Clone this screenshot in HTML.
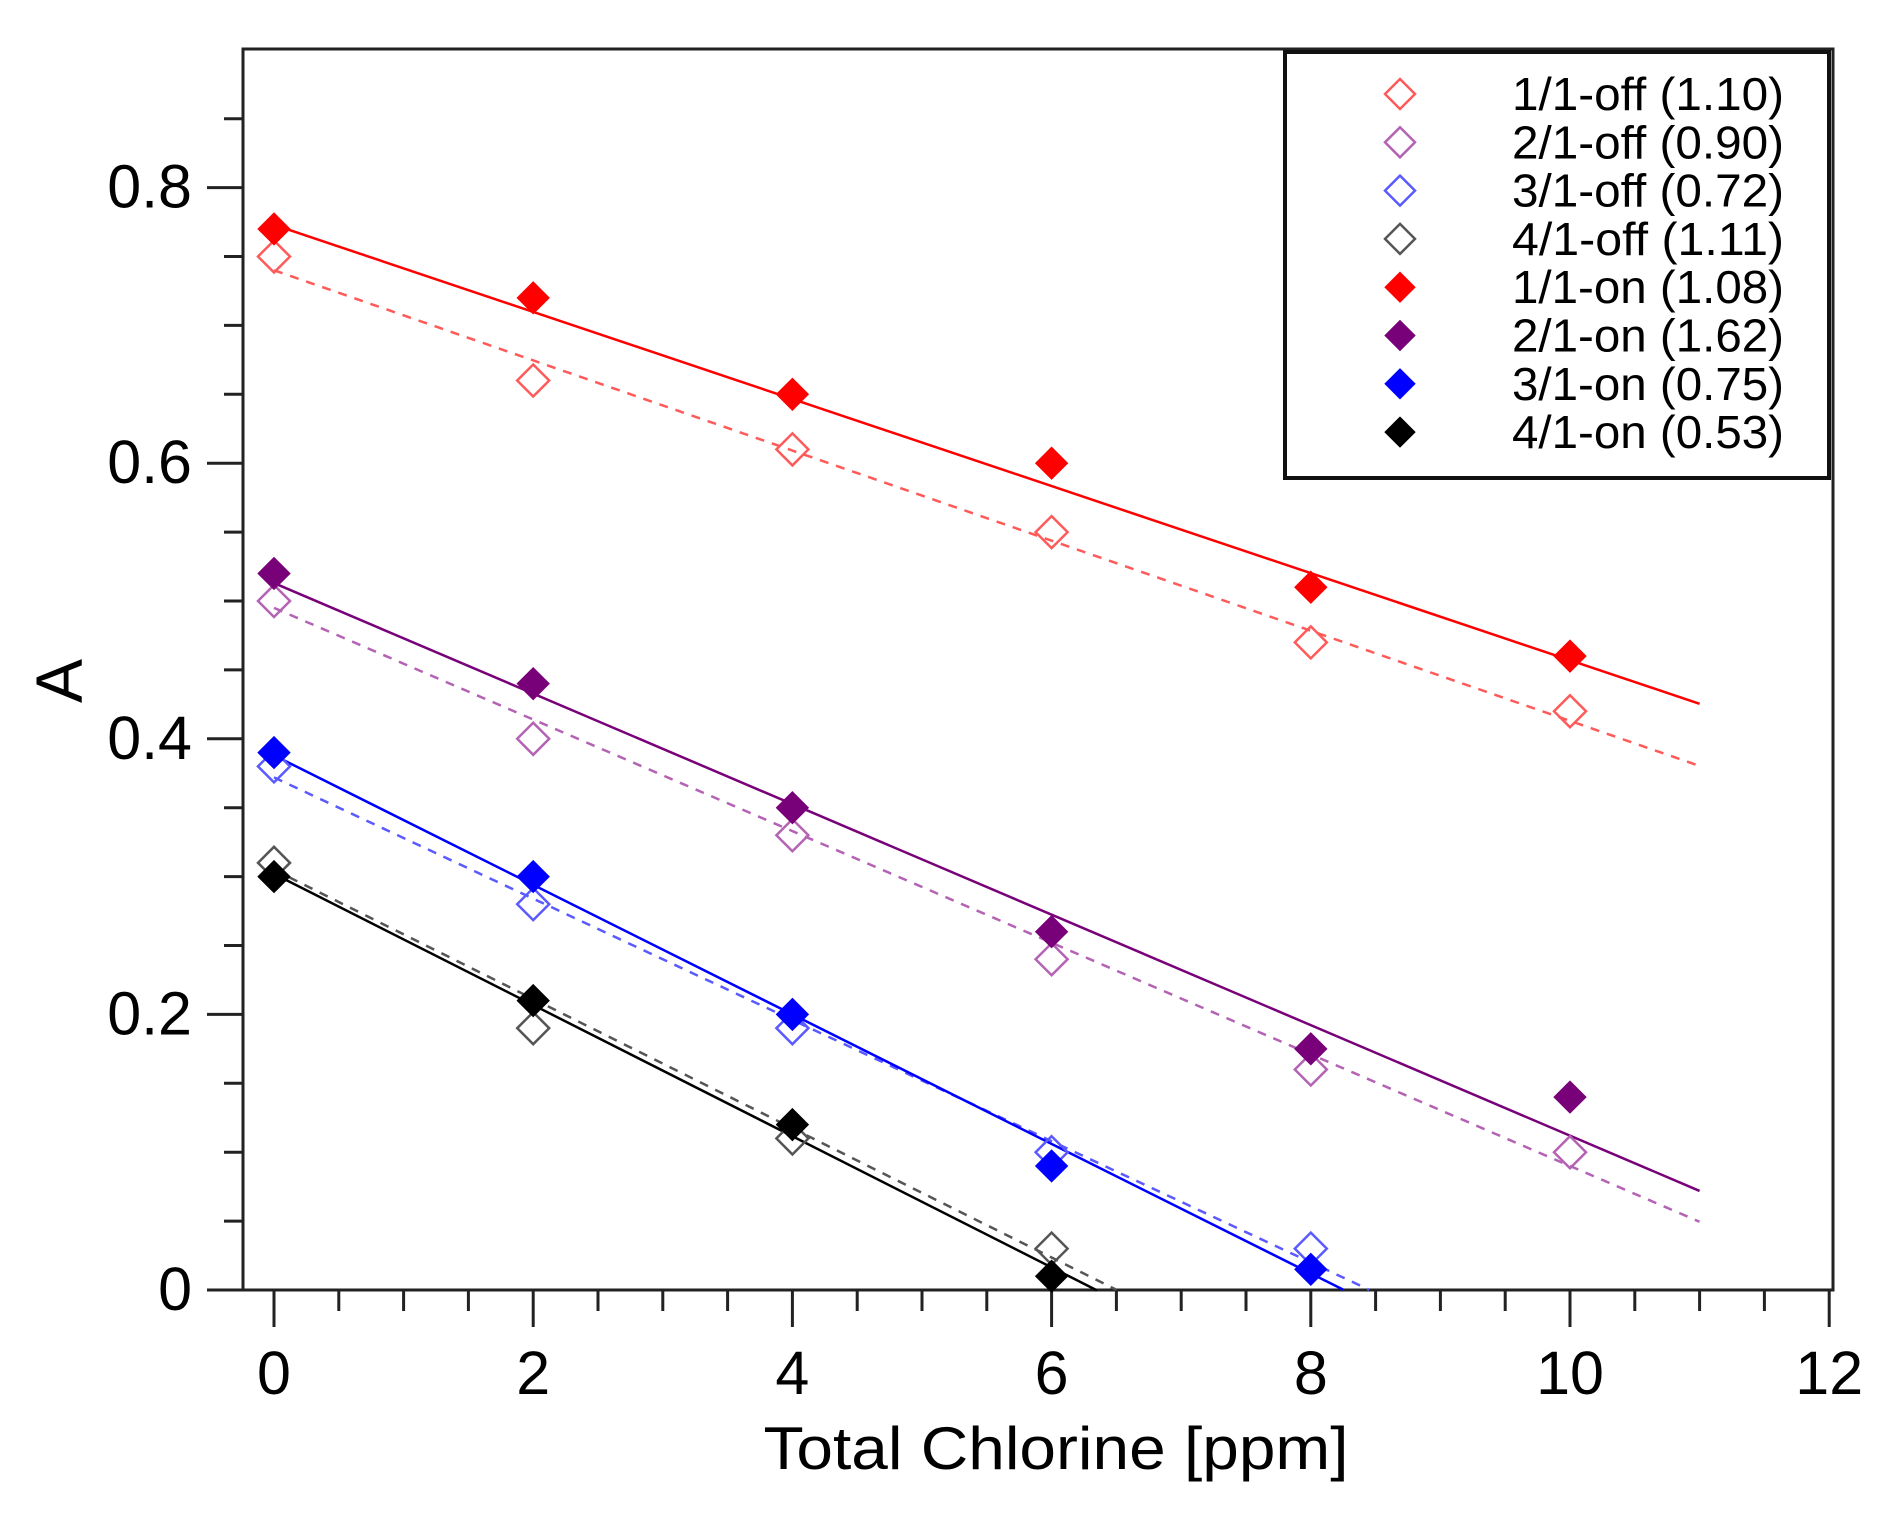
<!DOCTYPE html>
<html><head><meta charset="utf-8"><style>
html,body{margin:0;padding:0;background:#fff}
svg{display:block;font-family:"Liberation Sans",Arial,sans-serif}
</style></head><body>
<svg id="chart" width="1889" height="1522" viewBox="0 0 1889 1522" xmlns="http://www.w3.org/2000/svg">
<rect x="0" y="0" width="1889" height="1522" fill="#fff"/>
<g id="plot"></g>
</svg>
<script>
const xTicks=[0,2,4,6,8,10,12];
const yTicks=[0,0.2,0.4,0.6,0.8];
const yTickLabels=['0','0.2','0.4','0.6','0.8'];
const seriesNames=['1/1-off (1.10)','2/1-off (0.90)','3/1-off (0.72)','4/1-off (1.11)','1/1-on (1.08)','2/1-on (1.62)','3/1-on (0.75)','4/1-on (0.53)'];
const seriesColors=['#ff5a5a','#b463b4','#5a5aff','#555555','#ff0000','#780078','#0000ff','#000000'];
const seriesFilled=[false,false,false,false,true,true,true,true];
const xOff11=[0,2,4,6,8,10];
const yOff11=[0.75,0.66,0.61,0.55,0.47,0.42];
const xOff21=[0,2,4,6,8,10];
const yOff21=[0.50,0.40,0.33,0.24,0.16,0.10];
const xOff31=[0,2,4,6,8];
const yOff31=[0.38,0.28,0.19,0.10,0.03];
const xOff41=[0,2,4,6];
const yOff41=[0.31,0.19,0.11,0.03];
const xOn11=[0,2,4,6,8,10];
const yOn11=[0.77,0.72,0.65,0.60,0.51,0.46];
const xOn21=[0,2,4,6,8,10];
const yOn21=[0.52,0.44,0.35,0.26,0.175,0.14];
const xOn31=[0,2,4,6,8];
const yOn31=[0.39,0.30,0.20,0.09,0.015];
const xOn41=[0,2,4,6];
const yOn41=[0.30,0.21,0.12,0.01];
const fitIntercept=[0.740,0.495,0.372,0.305,0.773,0.513,0.388,0.302];
const fitSlope=[-0.0327,-0.0405,-0.0440,-0.0469,-0.0316,-0.0401,-0.0470,-0.0476];
const fitEnd=[11,11,8.45,6.5,11,11,8.25,6.35];

const NS='http://www.w3.org/2000/svg';
const svg=document.getElementById('chart');
const g=document.getElementById('plot');
const X0=274, XS=129.6, Y0=1290, YS=1378;
const L=243,T=49,R=1833,B=1290;
function sx(v){return X0+v*XS;}
function sy(v){return Y0-v*YS;}
function mk(tag,attrs,parent){const e=document.createElementNS(NS,tag);for(const k in attrs)e.setAttribute(k,attrs[k]);(parent||g).appendChild(e);return e;}

let fr=mk('rect',{x:L,y:T,width:R-L,height:B-T,fill:'none',stroke:'#222','stroke-width':3});



for(let i=0;i<=17;i++){const v=i*0.05;const maj=(i%4===0);
 const t=mk('line',{x1:L-(maj?36:19),x2:L,y1:sy(v),y2:sy(v),stroke:'#222','stroke-width':3});
 
 }
yTicks.forEach((v,i)=>{const t=mk('text',{x:192,y:sy(v)+20,'font-size':61,'text-anchor':'end',fill:'#000'});t.textContent=yTickLabels[i];
 
 });
for(let i=0;i<=24;i++){const v=i*0.5;const maj=(i%4===0);
 const t=mk('line',{x1:sx(v),x2:sx(v),y1:B,y2:B+(maj?37:21),stroke:'#222','stroke-width':3});
 
 }
xTicks.forEach(v=>{const t=mk('text',{x:sx(v),y:1394,'font-size':61,'text-anchor':'middle',fill:'#000'});t.textContent=String(v);
 
 });
let xt=mk('text',{x:1056,y:1469,'font-size':60,'text-anchor':'middle',fill:'#000',textLength:585,lengthAdjust:'spacingAndGlyphs'});xt.textContent='Total Chlorine [ppm]';


let yt=mk('text',{x:0,y:0,'font-size':66,'text-anchor':'middle',fill:'#000',transform:'translate(82,681) rotate(-90)'});yt.textContent='A';



for(let i=0;i<8;i++){
 const x2=fitEnd[i];
 const ln=mk('line',{x1:sx(0),y1:sy(fitIntercept[i]),x2:sx(x2),y2:sy(fitIntercept[i]+fitSlope[i]*x2),stroke:seriesColors[i],'stroke-width':2.5});
 if(!seriesFilled[i])ln.setAttribute('stroke-dasharray','9 8');
 
 
}
function diamond(cx,cy,r,color,filled,parent){
 return mk('polygon',{points:`${cx},${cy-r} ${cx+r},${cy} ${cx},${cy+r} ${cx-r},${cy}`,fill:filled?color:'#fff','fill-opacity':filled?1:0,stroke:color,'stroke-width':filled?1:2.5},parent);
}
const xs=[xOff11,xOff21,xOff31,xOff41,xOn11,xOn21,xOn31,xOn41];
const ys=[yOff11,yOff21,yOff31,yOff41,yOn11,yOn21,yOn31,yOn41];
for(let i=0;i<8;i++){
 for(let j=0;j<xs[i].length;j++){
  const p=diamond(sx(xs[i][j]),sy(ys[i][j]),16,seriesColors[i],seriesFilled[i]);
  
  
 }
}
const lg=mk('g',{});


const lr=mk('rect',{x:1285,y:52,width:544,height:426,fill:'#fff',stroke:'#111','stroke-width':4},lg);


for(let i=0;i<8;i++){
 const cy=94+i*48.3;
 const d=diamond(1400,cy,15,seriesColors[i],seriesFilled[i],lg);
 
 
 const t=mk('text',{x:1512,y:cy+16,'font-size':46,fill:'#000',textLength:272,lengthAdjust:'spacingAndGlyphs'},lg);
 t.textContent=seriesNames[i];
 
 
}
</script>
</body></html>
